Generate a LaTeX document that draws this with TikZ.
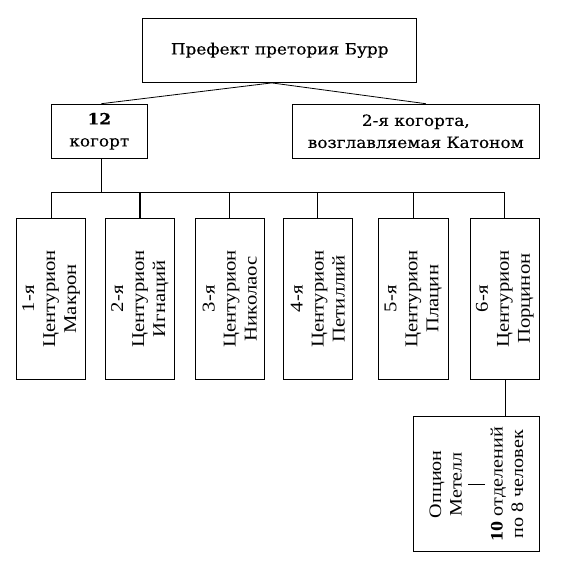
\documentclass[tikz,border=0pt]{standalone}
\usepackage{fontspec}
\setmainfont{Liberation Serif}
\newfontfamily\schfont[FakeStretch=1.09,FakeBold=0.3]{DejaVu Serif}
\newfontfamily\vertfont[FakeStretch=1.15]{Liberation Serif}
\begin{document}
\begin{tikzpicture}[x=1pt,y=-1pt,
  box/.style={draw=black,line width=1.2pt,rectangle,inner sep=0pt,align=center},
  topfont/.style={font=\schfont\fontsize{15.5}{22}\selectfont},
  vfont/.style={font=\vertfont\fontsize{18}{21}\selectfont,rotate=90,align=center},
  link/.style={line width=1.2pt},
  thin/.style={line width=0.8pt}]
\useasboundingbox (0,0) rectangle (561,570);
\node[box,topfont,minimum width=274pt,minimum height=64pt] (top) at (279.7,50.3) {Префект претория Бурр};
\node[box,topfont,minimum width=96pt,minimum height=54pt] (k12) at (99.3,131.3) {\textbf{12}\\когорт};
\node[box,topfont,minimum width=247pt,minimum height=54pt] (k2) at (415.8,131.3) {2-я когорта,\\возглавляемая Катоном};
\node[box,minimum width=69pt,minimum height=161pt] (c1) at (51.2,298.7) {};
\node[box,minimum width=69pt,minimum height=161pt] (c2) at (140,298.7) {};
\node[box,minimum width=69pt,minimum height=161pt] (c3) at (229.8,298.7) {};
\node[box,minimum width=69pt,minimum height=161pt] (c4) at (317.8,298.7) {};
\node[box,minimum width=70pt,minimum height=161pt] (c5) at (413.3,298.7) {};
\node[box,minimum width=69pt,minimum height=161pt] (c6) at (504.8,298.7) {};
\node[vfont] (t1) at (c1) {1-я\\Центурион\\Макрон};
\node[vfont] (t2) at (c2) {2-я\\Центурион\\Игнаций};
\node[vfont] (t3) at (c3) {3-я\\Центурион\\Николаос};
\node[vfont] (t4) at (c4) {4-я\\Центурион\\Петиллий};
\node[vfont] (t5) at (c5) {5-я\\Центурион\\Плацин};
\node[vfont] (t6) at (c6) {6-я\\Центурион\\Порцинон};
\node[box,minimum width=126pt,minimum height=135pt] (c7) at (476.3,484.2) {};
\node[vfont,font=\vertfont\fontsize{17.5}{20.5}\selectfont] (t7) at (c7) {Опцион\\Метелл\\\rule[-3pt]{0.9pt}{17pt}\\\textbf{10} отделений\\по 8 человек};
\coordinate (src) at ([xshift=-8pt]top.south);
\coordinate (bus) at (101.3,192.3);
\draw[thin] (src) -- ([xshift=2pt]k12.north);
\draw[thin] (src) -- ([xshift=10pt]k2.north);
\draw[link] ([xshift=2pt]k12.south) -- (bus);
\draw[link] (c1.north) -- (c1.north |- bus) -- (c6.north |- bus) -- (c6.north);
\foreach \c in {c2,c3,c4,c5} \draw[link] (\c.north) -- (\c.north |- bus);
\draw[link] ([xshift=1pt]c6.south) -- ([xshift=1pt]c6.south |- c7.north);
\end{tikzpicture}
\end{document}
